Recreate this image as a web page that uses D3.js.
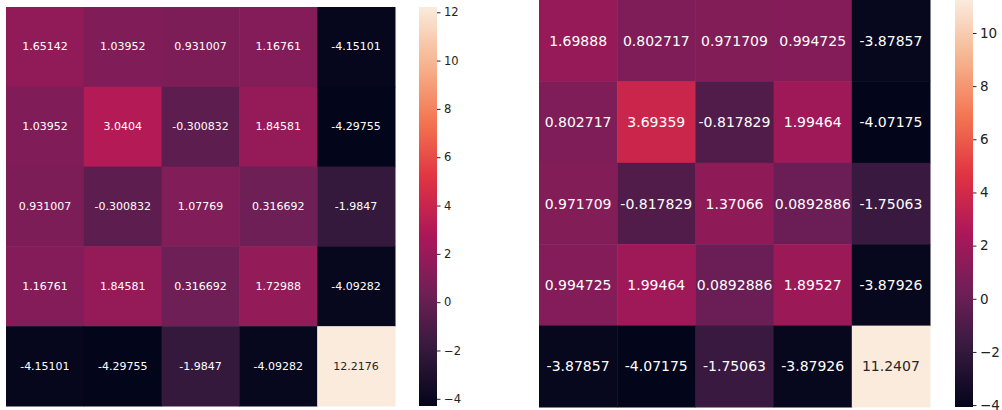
<!DOCTYPE html>
<html>
<head>
<meta charset="utf-8">
<script src="https://cdn.jsdelivr.net/npm/d3@7"></script>
<style>
  body { margin: 0; background: #fff; }
  svg { display: block; font-family: "DejaVu Sans", sans-serif; }
  .cbar .domain { display: none; }
  .cbar line { stroke: #222; }
  .cbar text { fill: #222; }
</style>
</head>
<body>
<svg id="chart" width="1002" height="410"></svg>
<script>
// matrices
var leftValues = [
  [1.65142, 1.03952, 0.931007, 1.16761, -4.15101],
  [1.03952, 3.0404, -0.300832, 1.84581, -4.29755],
  [0.931007, -0.300832, 1.07769, 0.316692, -1.9847],
  [1.16761, 1.84581, 0.316692, 1.72988, -4.09282],
  [-4.15101, -4.29755, -1.9847, -4.09282, 12.2176]
];
var rightValues = [
  [1.69888, 0.802717, 0.971709, 0.994725, -3.87857],
  [0.802717, 3.69359, -0.817829, 1.99464, -4.07175],
  [0.971709, -0.817829, 1.37066, 0.0892886, -1.75063],
  [0.994725, 1.99464, 0.0892886, 1.89527, -3.87926],
  [-3.87857, -4.07175, -1.75063, -3.87926, 11.2407]
];
var leftTicks = [-4, -2, 0, 2, 4, 6, 8, 10, 12];
var rightTicks = [-4, -2, 0, 2, 4, 6, 8, 10];

// seaborn "rocket" sampled
var rocket = ["#03051a", "#35193e", "#701f57", "#ad1759", "#e13342", "#f37651", "#f6b48f", "#faebdd"];

var svg = d3.select("#chart");

function heatmap(values, ticks, box, fontSize, tickFont) {
  var flat = values.flat();
  var vmin = d3.min(flat), vmax = d3.max(flat);

  var color = d3.scaleLinear()
      .domain(rocket.map(function(c, i) { return vmin + (vmax - vmin) * i / (rocket.length - 1); }))
      .range(rocket)
      .interpolate(d3.interpolateRgb);

  var idx = d3.range(values.length);
  var x = d3.scaleBand().domain(idx).range([box.x0, box.x1]);
  var y = d3.scaleBand().domain(idx).range([box.y0, box.y1]);

  var g = svg.append("g");
  var cells = [];
  values.forEach(function(row, r) {
    row.forEach(function(v, c) { cells.push({r: r, c: c, v: v}); });
  });

  g.selectAll("rect")
    .data(cells)
    .enter().append("rect")
      .attr("x", function(d) { return x(d.c); })
      .attr("y", function(d) { return y(d.r); })
      .attr("width", x.bandwidth() + 0.5)
      .attr("height", y.bandwidth() + 0.5)
      .attr("fill", function(d) { return color(d.v); });

  g.selectAll("text")
    .data(cells)
    .enter().append("text")
      .attr("x", function(d) { return x(d.c) + x.bandwidth() / 2; })
      .attr("y", function(d) { return y(d.r) + y.bandwidth() / 2; })
      .attr("text-anchor", "middle")
      .attr("dominant-baseline", "central")
      .attr("font-size", fontSize)
      .attr("fill", function(d) {
        var c = d3.rgb(color(d.v));
        var lum = 0.2126 * c.r + 0.7152 * c.g + 0.0722 * c.b;
        return lum > 104 ? "#262626" : "#ffffff";
      })
      .text(function(d) { return String(d.v); });

  // colorbar
  var cy = d3.scaleLinear().domain([vmin, vmax]).range([box.y1, box.y0]);
  var gid = "grad" + box.x0;
  var grad = svg.append("defs").append("linearGradient")
      .attr("id", gid)
      .attr("x1", 0).attr("y1", 1).attr("x2", 0).attr("y2", 0);
  d3.range(0, 1.0001, 0.02).forEach(function(t) {
    grad.append("stop")
      .attr("offset", t)
      .attr("stop-color", color(vmin + t * (vmax - vmin)));
  });
  svg.append("rect")
    .attr("x", box.cb)
    .attr("y", box.y0)
    .attr("width", 18)
    .attr("height", box.y1 - box.y0)
    .attr("fill", "url(#" + gid + ")");

  svg.append("g")
    .attr("class", "cbar")
    .attr("transform", "translate(" + (box.cb + 18) + ",0)")
    .call(d3.axisRight(cy).tickValues(ticks).tickSize(3.5).tickPadding(3.5))
    .selectAll("text")
      .attr("font-size", tickFont);
  svg.selectAll(".cbar").attr("font-family", null);
}

heatmap(leftValues, leftTicks, {x0: 6, x1: 395, y0: 7, y1: 406, cb: 419}, 11, 11.5);
heatmap(rightValues, rightTicks, {x0: 539, x1: 930, y0: 0, y1: 407, cb: 955}, 14, 13.5);
</script>
</body>
</html>
